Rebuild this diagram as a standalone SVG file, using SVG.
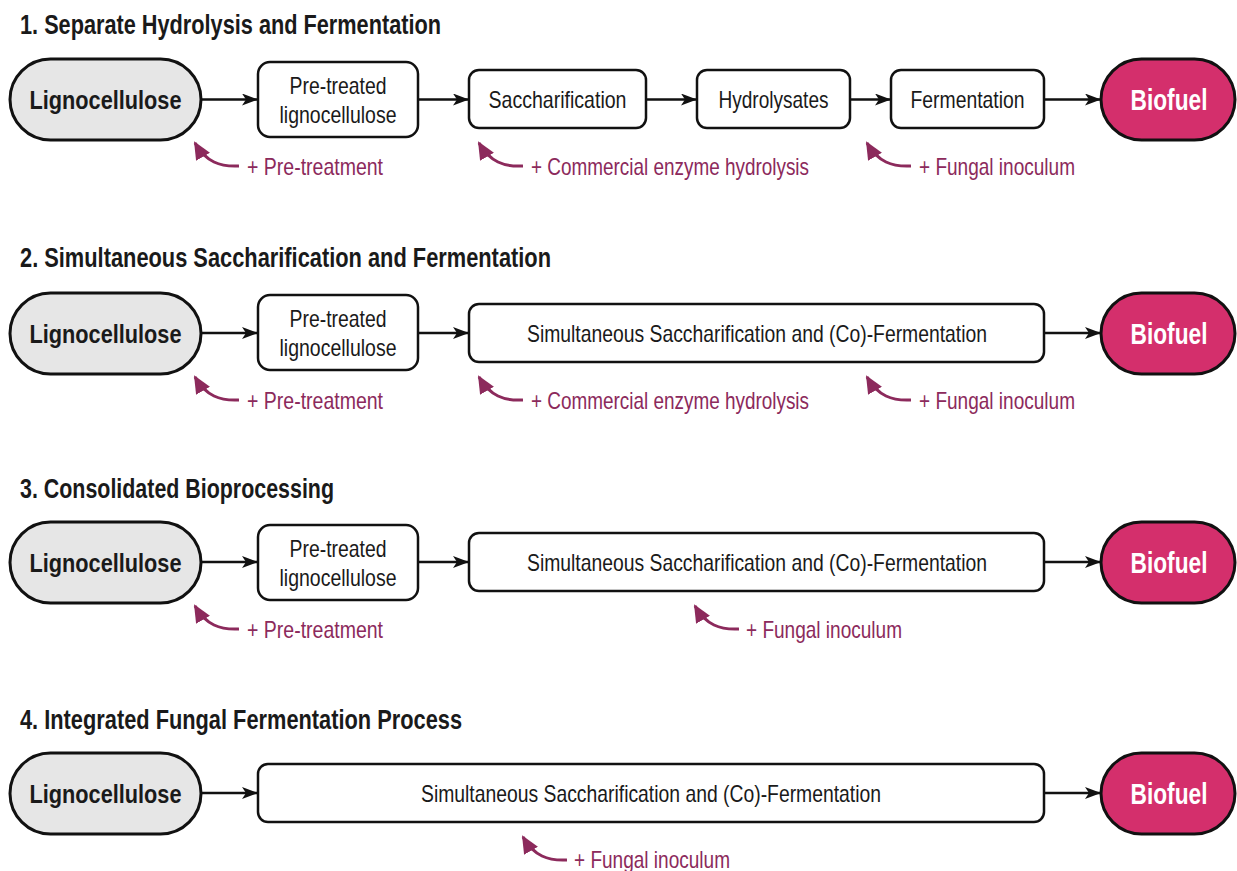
<svg xmlns="http://www.w3.org/2000/svg" width="1237" height="871" viewBox="0 0 1237 871">
<defs>
<style>
text{font-family:"Liberation Sans Narrow","Liberation Sans",Arial,sans-serif;}
.title{font-size:28px;font-weight:bold;fill:#1a1a1a;}
.box{fill:#ffffff;stroke:#111111;stroke-width:2.5;}
.src{fill:#e6e6e6;stroke:#111111;stroke-width:3;}
.out{fill:#d42f6c;stroke:#111111;stroke-width:3;}
.bt{font-size:24px;fill:#1a1a1a;text-anchor:middle;}
.st{font-size:26px;font-weight:bold;fill:#1a1a1a;text-anchor:middle;}
.ot{font-size:29px;font-weight:bold;fill:#ffffff;text-anchor:middle;}
.ann{font-size:24px;fill:#8c2a5c;}
.edge{stroke:#111111;stroke-width:2.5;fill:none;marker-end:url(#ah);}
.curve{stroke:#8c2a5c;stroke-width:3;fill:none;marker-end:url(#mh);}
</style>
<marker id="ah" markerUnits="userSpaceOnUse" markerWidth="16" markerHeight="12" refX="15" refY="6" orient="auto">
<path d="M0,0 L16,6 L0,12 L4,6 z" fill="#111111"/>
</marker>
<marker id="mh" markerUnits="userSpaceOnUse" markerWidth="18" markerHeight="16" refX="16" refY="8" orient="auto">
<path d="M0,0 L18,8 L0,16 z" fill="#8c2a5c"/>
</marker>
<g id="cv"><path class="curve" d="M47,26 C28,27 14,22 3,3"/></g>
</defs>
<rect width="1237" height="871" fill="#ffffff"/>

<!-- Titles -->
<text class="title" x="20" y="34" textLength="421" lengthAdjust="spacingAndGlyphs">1. Separate Hydrolysis and Fermentation</text>
<text class="title" x="20" y="267" textLength="531" lengthAdjust="spacingAndGlyphs">2. Simultaneous Saccharification and Fermentation</text>
<text class="title" x="20" y="498" textLength="314" lengthAdjust="spacingAndGlyphs">3. Consolidated Bioprocessing</text>
<text class="title" x="20" y="729" textLength="442" lengthAdjust="spacingAndGlyphs">4. Integrated Fungal Fermentation Process</text>

<!-- Row 1 -->
<g id="r1-ligno"><rect class="src" x="10" y="59" width="191" height="81" rx="40.5"/><text class="st" x="105.5" y="109" textLength="152" lengthAdjust="spacingAndGlyphs">Lignocellulose</text></g>
<g id="r1-pre"><rect class="box" x="258" y="62" width="160" height="75" rx="12"/><text class="bt" x="338" y="94" textLength="97" lengthAdjust="spacingAndGlyphs">Pre-treated</text><text class="bt" x="338" y="123" textLength="117" lengthAdjust="spacingAndGlyphs">lignocellulose</text></g>
<g id="r1-sacch"><rect class="box" x="469" y="70" width="177" height="58" rx="10"/><text class="bt" x="557.5" y="108" textLength="138" lengthAdjust="spacingAndGlyphs">Saccharification</text></g>
<g id="r1-hydro"><rect class="box" x="697" y="70" width="153" height="58" rx="10"/><text class="bt" x="773.5" y="108" textLength="110" lengthAdjust="spacingAndGlyphs">Hydrolysates</text></g>
<g id="r1-ferm"><rect class="box" x="891" y="70" width="153" height="58" rx="10"/><text class="bt" x="967.5" y="108" textLength="114" lengthAdjust="spacingAndGlyphs">Fermentation</text></g>
<g id="r1-bio"><rect class="out" x="1101" y="59" width="134" height="81" rx="40.5"/><text class="ot" x="1169" y="110" textLength="77" lengthAdjust="spacingAndGlyphs">Biofuel</text></g>

<!-- Row 2 -->
<g id="r2-ligno"><rect class="src" x="10" y="293" width="191" height="81" rx="40.5"/><text class="st" x="105.5" y="343" textLength="152" lengthAdjust="spacingAndGlyphs">Lignocellulose</text></g>
<g id="r2-pre"><rect class="box" x="258" y="295" width="160" height="75" rx="12"/><text class="bt" x="338" y="327" textLength="97" lengthAdjust="spacingAndGlyphs">Pre-treated</text><text class="bt" x="338" y="356" textLength="117" lengthAdjust="spacingAndGlyphs">lignocellulose</text></g>
<g id="r2-ssf"><rect class="box" x="469" y="304" width="575" height="58" rx="10"/><text class="bt" x="757" y="342" textLength="460" lengthAdjust="spacingAndGlyphs">Simultaneous Saccharification and (Co)-Fermentation</text></g>
<g id="r2-bio"><rect class="out" x="1101" y="293" width="134" height="81" rx="40.5"/><text class="ot" x="1169" y="344" textLength="77" lengthAdjust="spacingAndGlyphs">Biofuel</text></g>

<!-- Row 3 -->
<g id="r3-ligno"><rect class="src" x="10" y="522" width="191" height="81" rx="40.5"/><text class="st" x="105.5" y="572" textLength="152" lengthAdjust="spacingAndGlyphs">Lignocellulose</text></g>
<g id="r3-pre"><rect class="box" x="258" y="525" width="160" height="75" rx="12"/><text class="bt" x="338" y="557" textLength="97" lengthAdjust="spacingAndGlyphs">Pre-treated</text><text class="bt" x="338" y="586" textLength="117" lengthAdjust="spacingAndGlyphs">lignocellulose</text></g>
<g id="r3-ssf"><rect class="box" x="469" y="533" width="575" height="58" rx="10"/><text class="bt" x="757" y="571" textLength="460" lengthAdjust="spacingAndGlyphs">Simultaneous Saccharification and (Co)-Fermentation</text></g>
<g id="r3-bio"><rect class="out" x="1101" y="522" width="134" height="81" rx="40.5"/><text class="ot" x="1169" y="573" textLength="77" lengthAdjust="spacingAndGlyphs">Biofuel</text></g>

<!-- Row 4 -->
<g id="r4-ligno"><rect class="src" x="10" y="753" width="191" height="81" rx="40.5"/><text class="st" x="105.5" y="803" textLength="152" lengthAdjust="spacingAndGlyphs">Lignocellulose</text></g>
<g id="r4-ssf"><rect class="box" x="258" y="764" width="786" height="58" rx="10"/><text class="bt" x="651" y="802" textLength="460" lengthAdjust="spacingAndGlyphs">Simultaneous Saccharification and (Co)-Fermentation</text></g>
<g id="r4-bio"><rect class="out" x="1101" y="753" width="134" height="81" rx="40.5"/><text class="ot" x="1169" y="804" textLength="77" lengthAdjust="spacingAndGlyphs">Biofuel</text></g>

<!-- Connectors -->
<g id="connectors">
<path class="edge" d="M201,99.5 H257"/>
<path class="edge" d="M418,99.5 H468"/>
<path class="edge" d="M646,99.5 H696"/>
<path class="edge" d="M850,99.5 H890"/>
<path class="edge" d="M1044,99.5 H1100"/>
<path class="edge" d="M201,333 H257"/>
<path class="edge" d="M418,333 H468"/>
<path class="edge" d="M1044,333 H1100"/>
<path class="edge" d="M201,562 H257"/>
<path class="edge" d="M418,562 H468"/>
<path class="edge" d="M1044,562 H1100"/>
<path class="edge" d="M201,793 H257"/>
<path class="edge" d="M1044,793 H1100"/>
<use href="#cv" x="192" y="140"/>
<use href="#cv" x="476" y="140"/>
<use href="#cv" x="864" y="140"/>
<use href="#cv" x="192" y="374"/>
<use href="#cv" x="476" y="374"/>
<use href="#cv" x="864" y="374"/>
<use href="#cv" x="192" y="603"/>
<use href="#cv" x="692" y="603"/>
<use href="#cv" x="520" y="834"/>
</g>

<!-- Annotations -->
<text class="ann" x="247" y="175" textLength="136" lengthAdjust="spacingAndGlyphs">+ Pre-treatment</text>
<text class="ann" x="531" y="175" textLength="278" lengthAdjust="spacingAndGlyphs">+ Commercial enzyme hydrolysis</text>
<text class="ann" x="919" y="175" textLength="156" lengthAdjust="spacingAndGlyphs">+ Fungal inoculum</text>
<text class="ann" x="247" y="409" textLength="136" lengthAdjust="spacingAndGlyphs">+ Pre-treatment</text>
<text class="ann" x="531" y="409" textLength="278" lengthAdjust="spacingAndGlyphs">+ Commercial enzyme hydrolysis</text>
<text class="ann" x="919" y="409" textLength="156" lengthAdjust="spacingAndGlyphs">+ Fungal inoculum</text>
<text class="ann" x="247" y="638" textLength="136" lengthAdjust="spacingAndGlyphs">+ Pre-treatment</text>
<text class="ann" x="746" y="638" textLength="156" lengthAdjust="spacingAndGlyphs">+ Fungal inoculum</text>
<text class="ann" x="574" y="868" textLength="156" lengthAdjust="spacingAndGlyphs">+ Fungal inoculum</text>
</svg>
